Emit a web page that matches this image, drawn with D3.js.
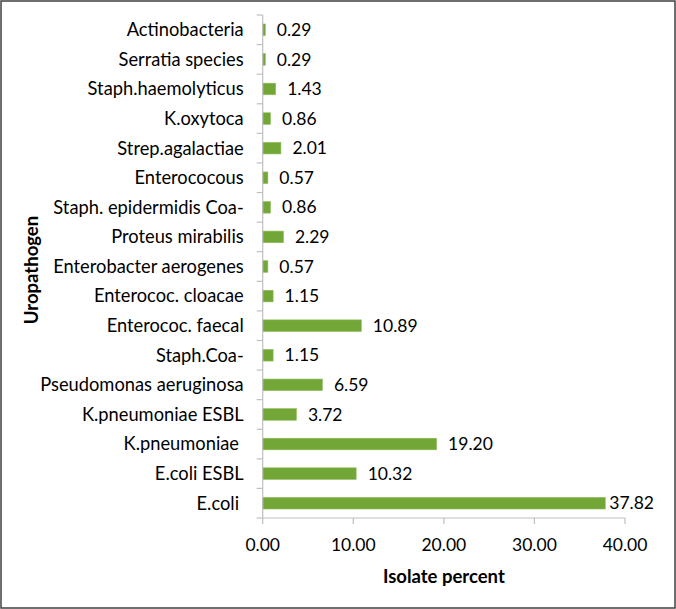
<!DOCTYPE html>
<html><head><meta charset="utf-8">
<script src="https://cdn.jsdelivr.net/npm/d3@7"></script>
<style>body{margin:0;background:#fff}text{white-space:pre}</style>
</head><body>
<svg id="c" width="676" height="609"></svg>
<script>
const categories = ["Actinobacteria","Serratia species","Staph.haemolyticus","K.oxytoca","Strep.agalactiae","Enterococous","Staph. epidermidis Coa-","Proteus mirabilis","Enterobacter aerogenes","Enterococ. cloacae","Enterococ. faecal","Staph.Coa-","Pseudomonas aeruginosa","K.pneumoniae ESBL","K.pneumoniae ","E.coli ESBL","E.coli "];
const values = [0.29,0.29,1.43,0.86,2.01,0.57,0.86,2.29,0.57,1.15,10.89,1.15,6.59,3.72,19.20,10.32,37.82];
const xTicks = [0,10,20,30,40];
const xTitle = "Isolate percent", yTitle = "Uropathogen";

const svg = d3.select("#c");
const font = "Lato, 'Open Sans', sans-serif";
const fs = 18.3, fsNum = 17.5, fsTitle = 18.5;
svg.append("rect").attr("x",1).attr("y",1).attr("width",674).attr("height",607)
  .attr("fill","#fff").attr("stroke","#404040").attr("stroke-width",1.5);

const x = d3.scaleLinear().domain([0,40]).range([262.7,625]);
const yb = d3.scaleBand().domain(categories).range([15,518]);

const g = svg.append("g");
g.selectAll("rect.bar").data(categories).join("rect").attr("class","bar")
  .attr("x",x(0)).attr("y",d=>yb(d)+yb.bandwidth()/2-5.8).attr("height",11.6)
  .attr("width",(d,i)=>x(values[i])-x(0))
  .attr("fill","#72a737").attr("stroke","#8fbc5a").attr("stroke-width",0.6);

const ya = g.append("g").attr("transform",`translate(${x(0)},0)`);
ya.append("line").attr("y1",15).attr("y2",518).attr("stroke","#bfbfbf").attr("stroke-width",1.2);
const bounds = categories.map(c=>yb(c)).concat([518]);
ya.selectAll("line.t").data(bounds).join("line").attr("class","t")
  .attr("x1",-6).attr("x2",0).attr("y1",d=>d).attr("y2",d=>d).attr("stroke","#bfbfbf").attr("stroke-width",1.2);
ya.selectAll("text").data(categories).join("text")
  .attr("x",-19).attr("y",d=>yb(d)+yb.bandwidth()/2).attr("dy","0.35em")
  .attr("text-anchor","end").attr("font-family",font).attr("font-size",fs).attr("fill","#000")
  .text(d=>d);

const xa = g.append("g").attr("transform","translate(0,518)");
xa.append("line").attr("x1",x(0)).attr("x2",x(40)).attr("stroke","#bfbfbf").attr("stroke-width",1.2);
xa.selectAll("line.t").data(xTicks).join("line").attr("class","t")
  .attr("x1",d=>x(d)).attr("x2",d=>x(d)).attr("y1",0).attr("y2",6).attr("stroke","#bfbfbf").attr("stroke-width",1.2);
xa.selectAll("text").data(xTicks).join("text")
  .attr("x",d=>x(d)).attr("y",27).attr("dy","0.35em").attr("text-anchor","middle")
  .attr("font-family",font).attr("font-size",fsNum).text(d=>d.toFixed(2));

g.selectAll("text.v").data(categories).join("text").attr("class","v")
  .attr("x",(d,i)=>x(values[i])+11.5).attr("y",d=>yb(d)+yb.bandwidth()/2).attr("dy","0.35em")
  .attr("font-family",font).attr("font-size",fsNum).text((d,i)=>values[i].toFixed(2))
  .each(function(){
    const w=this.getComputedTextLength(); const x0=+this.getAttribute("x");
    if (x0+w>654) this.setAttribute("x",654-w);
  });

svg.append("text").attr("x",x(20)).attr("y",577).attr("dy","0.35em").attr("text-anchor","middle")
  .attr("font-family",font).attr("font-size",fsTitle).attr("font-weight","bold").text(xTitle);
svg.append("text").attr("transform","translate(32,270) rotate(-90)").attr("dy","0.35em").attr("text-anchor","middle")
  .attr("font-family",font).attr("font-size",fsTitle).attr("font-weight","bold").text(yTitle);
</script>
</body></html>
